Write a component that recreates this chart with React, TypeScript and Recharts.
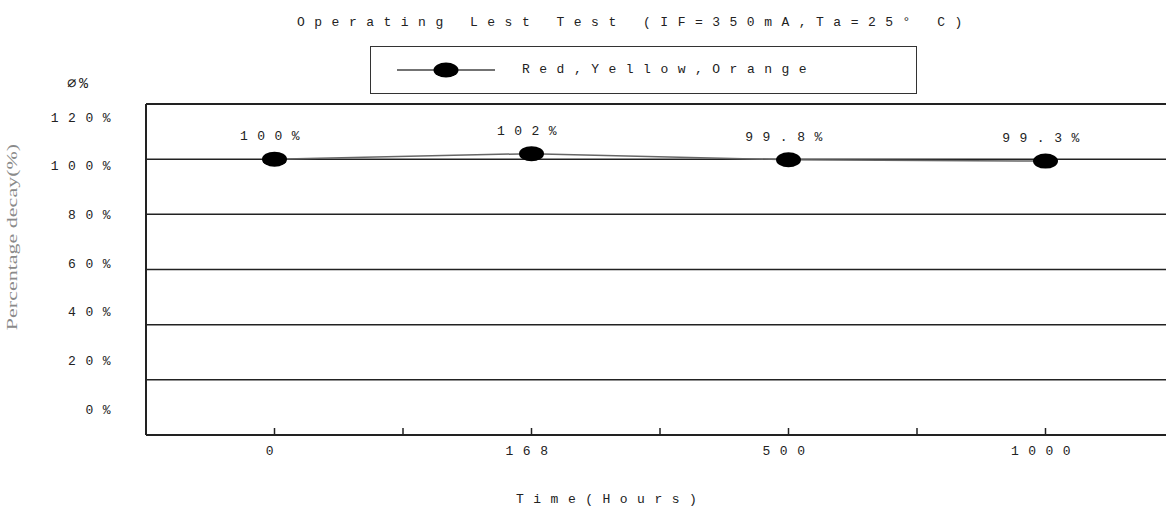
import React from 'react';
import { LineChart, Line, XAxis, YAxis, ReferenceLine, LabelList, Legend } from 'recharts';

// values
const hours = ['0', '168', '500', '1000'];
const decay = [100, 102, 99.8, 99.3];
const seriesName = 'Red,Yellow,Orange';
const xTicks = [0, 0.5, 1, 1.5, 2, 2.5, 3];
const minorTicks = [10, 30, 50, 70, 90, 110];
const gridValues = [20, 40, 60, 80, 100];
const pctTicks = [0, 20, 40, 60, 80, 100, 120];

const data = hours.map((h, i) => ({ idx: i, hours: h, value: decay[i] }));

const mono = '"Liberation Mono", "DejaVu Sans Mono", monospace';
const ink = '#222';

const textStyle: React.CSSProperties = {
  position: 'absolute',
  fontFamily: mono,
  fontSize: 13,
  letterSpacing: '9.5px',
  lineHeight: '16px',
  color: ink,
  whiteSpace: 'nowrap',
};

const Blob = (p: any) => (
  <ellipse key={`dot-${p.index}`} cx={p.cx} cy={p.cy} rx={12.5} ry={7.5} fill="#000" />
);

const PointLabel = (p: any) => {
  const vb = p.viewBox || p;
  const x = vb.x + (vb.width || 0) / 2;
  const y = vb.y;
  return (
    <text x={x} y={y - 19} textAnchor="middle" fontFamily={mono} fontSize={13} fill={ink} letterSpacing={9.5}>
      {`${p.value}%`}
    </text>
  );
};

const LegendBox = (props: any) => {
  const name = props.payload && props.payload[0] ? props.payload[0].value : seriesName;
  return (
    <div style={{ position: 'relative', width: 547, height: 48, border: '1.5px solid #333', boxSizing: 'border-box', background: '#fff' }}>
      <svg width={130} height={46} style={{ position: 'absolute', left: 26, top: 0 }}>
        <line x1={0} y1={23} x2={98} y2={23} stroke="#444" strokeWidth={1.5} />
        <ellipse cx={49} cy={23} rx={12.5} ry={7.5} fill="#000" />
      </svg>
      <span style={{ ...textStyle, left: 151, top: 15 }}>{name}</span>
    </div>
  );
};

export default function App() {
  return (
    <div style={{ position: 'fixed', left: 0, top: 0, width: 1166, height: 512, overflow: 'hidden', background: '#fff' }}>
      <LineChart width={1200} height={512} data={data} margin={{ top: 104, right: 26, bottom: 47, left: 0 }}>
        <XAxis
          dataKey="idx"
          type="number"
          domain={[-0.5, 3.5]}
          ticks={xTicks}
          interval={0}
          allowDataOverflow
          tickFormatter={(v: number) => (Number.isInteger(v) ? hours[v] : '')}
          axisLine={{ stroke: ink, strokeWidth: 2 }}
          tickLine={{ stroke: ink, strokeWidth: 1.5 }}
          tickSize={-7}
          tickMargin={18}
          height={30}
          tick={{ fill: ink, fontSize: 13, fontFamily: mono, letterSpacing: 9.5 }}
        />
        <YAxis
          yAxisId="lbl"
          type="number"
          orientation="left"
          domain={[-10.7, 125.3]}
          allowDataOverflow
          ticks={pctTicks}
          interval={0}
          axisLine={false}
          tickLine={false}
          tickSize={0}
          tickMargin={26}
          width={146}
          tickFormatter={(v: number) => `${v}%`}
          tick={{ fill: ink, fontSize: 13, fontFamily: mono, letterSpacing: 9.5 }}
        />
        <YAxis
          yAxisId="v"
          type="number"
          domain={[0, 120]}
          allowDataOverflow
          ticks={minorTicks}
          interval={0}
          mirror
          tick={false}
          tickSize={13}
          width={1}
          axisLine={{ stroke: ink, strokeWidth: 2 }}
          tickLine={{ stroke: ink, strokeWidth: 1.5 }}
        />
        {gridValues.map((v) => (
          <ReferenceLine key={v} yAxisId="v" y={v} stroke={ink} strokeWidth={1.5} />
        ))}
        <ReferenceLine yAxisId="v" y={120} stroke={ink} strokeWidth={2} />
        <Legend
          layout="horizontal"
          verticalAlign="middle"
          align="center"
          wrapperStyle={{ left: 370, top: 46, width: 547, height: 48 }}
          content={<LegendBox />}
        />
        <Line
          yAxisId="v"
          name={seriesName}
          dataKey="value"
          stroke="#666"
          strokeWidth={1.5}
          dot={Blob}
          activeDot={false}
          isAnimationActive={false}
        >
          <LabelList dataKey="value" content={<PointLabel />} />
        </Line>
      </LineChart>

      <span style={{ ...textStyle, left: 297, top: 15 }}>Operating Lest Test (IF=350mA,Ta=25° C)</span>
      <span style={{ ...textStyle, left: 67, top: 77, fontSize: 15, letterSpacing: '3px' }}>⌀%</span>
      <span style={{ ...textStyle, left: 516, top: 492 }}>Time(Hours)</span>
      <span
        style={{
          position: 'absolute',
          left: 12,
          top: 237,
          transform: 'translate(-50%, -50%) rotate(-90deg) scale(1, 0.7)',
          fontFamily: '"Liberation Serif", serif',
          fontSize: 22,
          lineHeight: '24px',
          color: '#8a8a8a',
          whiteSpace: 'nowrap',
        }}
      >
        Percentage decay(%)
      </span>
    </div>
  );
}
